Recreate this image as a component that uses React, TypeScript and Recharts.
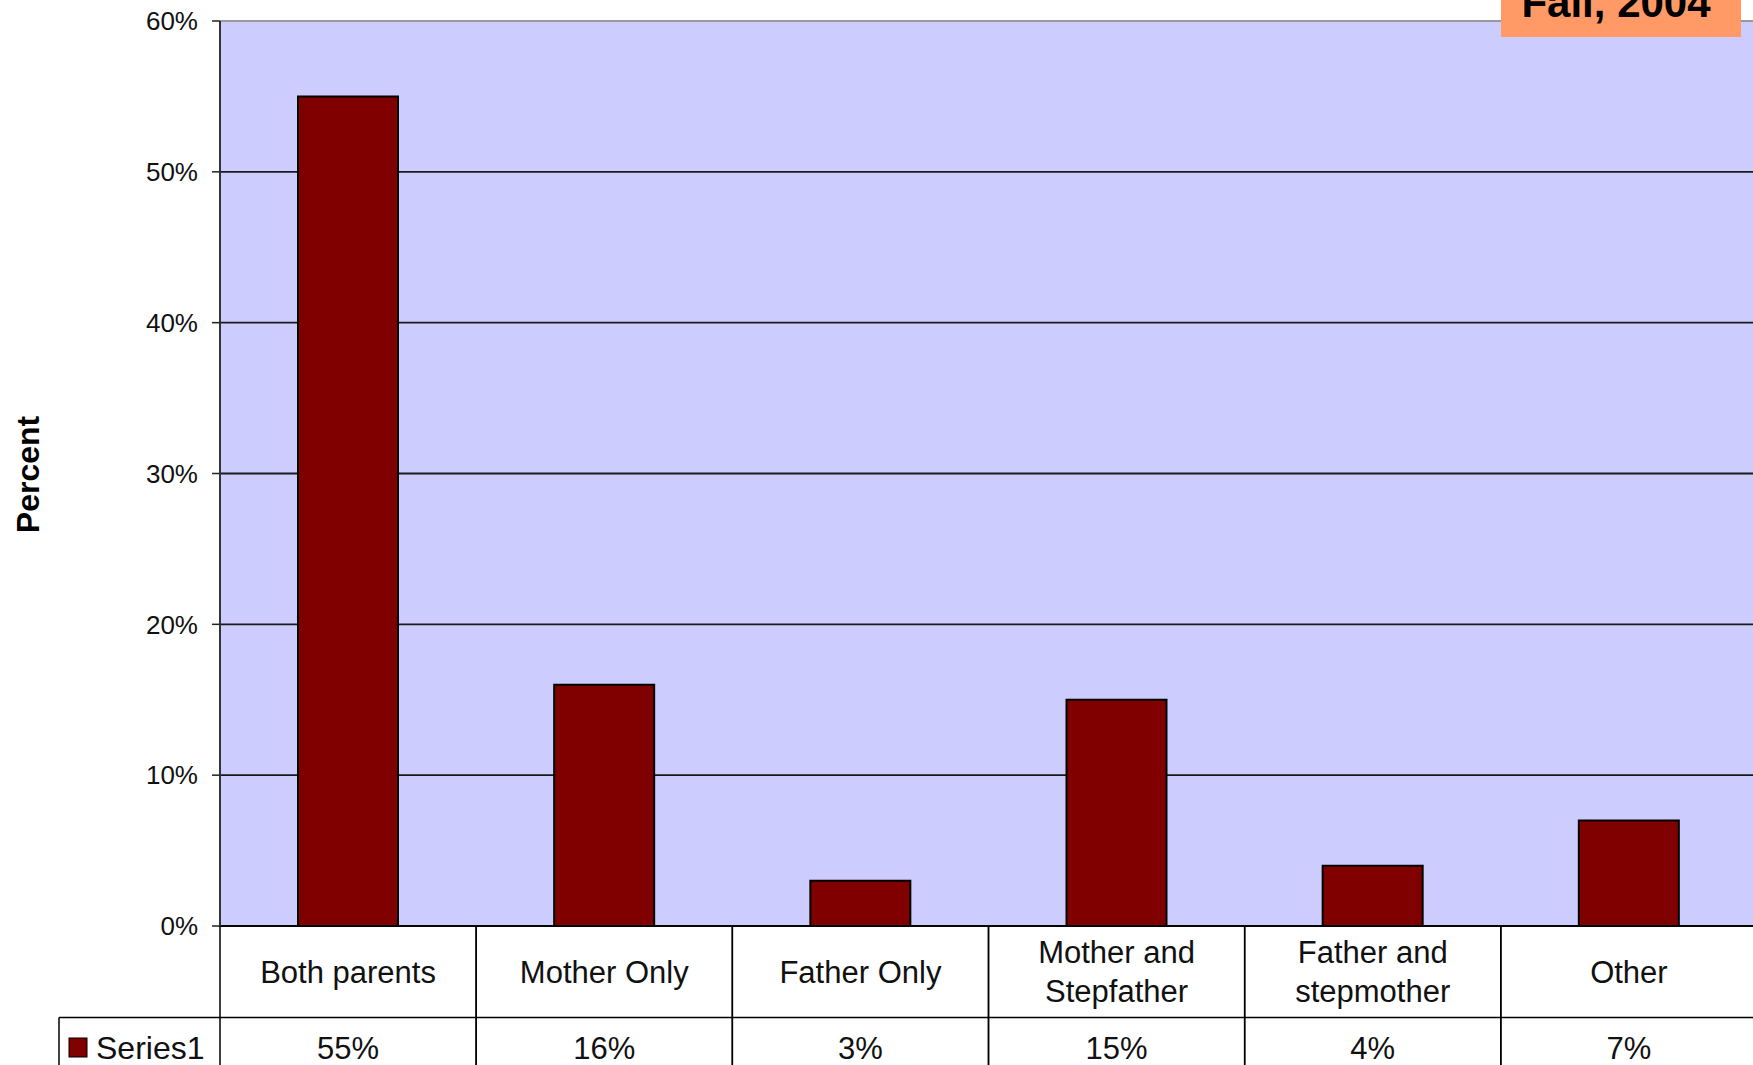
import React from 'react';
import { BarChart, Bar, XAxis, YAxis, CartesianGrid, ReferenceLine } from 'recharts';

const categories = ['Both parents', 'Mother Only', 'Father Only', 'Mother and\nStepfather', 'Father and\nstepmother', 'Other'];
const values = [55, 16, 3, 15, 4, 7];
const seriesName = 'Series1';
const yTicks = [0, 10, 20, 30, 40, 50, 60];
const yLabel = 'Percent';
const title = 'Fall, 2004';

const data = categories.map((c, i) => ({ name: c, value: values[i] }));

const FONT = '"Liberation Sans", Arial, sans-serif';
const BAR_COLOR = '#800000';
const CHART_W = 1760;
const CHART_H = 1065;

function CategoryTick(props: any) {
  const { x, y, payload, index } = props;
  const half = payload && payload.offset ? payload.offset : 128;
  const left = x - half;
  const right = x + half;
  const top = y;
  const rowH = 91.5;
  const sepY = top + rowH;
  const lines = String(payload.value).split('\n');
  const lh = 39;
  const mid = top + rowH / 2;
  const start = mid - ((lines.length - 1) * lh) / 2;
  const valY = sepY + 30;
  const idx = categories.indexOf(String(payload.value));
  const val = idx >= 0 ? values[idx] : null;
  return (
    <g>
      <line x1={left} y1={top} x2={left} y2={CHART_H} stroke="#000" strokeWidth={1.5} />
      <line x1={right} y1={top} x2={right} y2={CHART_H} stroke="#000" strokeWidth={1.5} />
      <line x1={left} y1={sepY} x2={right} y2={sepY} stroke="#000" strokeWidth={1.5} />
      {lines.map((l, i) => (
        <text key={i} x={x} y={start + i * lh} dy="0.36em" textAnchor="middle" fontFamily={FONT} fontSize={31} fill="#111">
          {l}
        </text>
      ))}
      {val !== null && (
        <text x={x} y={valY} dy="0.36em" textAnchor="middle" fontFamily={FONT} fontSize={31} fill="#111">
          {val + '%'}
        </text>
      )}
      {index === 0 && (
        <g>
          <line x1={59} y1={sepY} x2={left} y2={sepY} stroke="#000" strokeWidth={1.5} />
          <line x1={59} y1={sepY} x2={59} y2={CHART_H} stroke="#000" strokeWidth={1.5} />
          <rect x={69} y={valY - 9.5} width={18} height={19} fill={BAR_COLOR} stroke="#000" strokeWidth={1} />
          <text x={96} y={valY} dy="0.36em" textAnchor="start" fontFamily={FONT} fontSize={32} fill="#111">
            {seriesName}
          </text>
        </g>
      )}
    </g>
  );
}

function PercentLabel(props: any) {
  const vb = props.viewBox || { x: 0, y: 21, width: 220, height: 905 };
  const cx = vb.x + 27;
  const cy = vb.y + vb.height / 2 + 1;
  return (
    <text
      x={cx}
      y={cy}
      transform={`rotate(-90 ${cx} ${cy})`}
      textAnchor="middle"
      dy="0.36em"
      fontFamily={FONT}
      fontWeight="bold"
      fontSize={32}
      fill="#000"
    >
      {yLabel}
    </text>
  );
}

export default function App() {
  return (
    <div style={{ position: 'absolute', left: 0, top: 0, width: 1753, height: 1065, overflow: 'hidden', background: '#fff' }}>
      <BarChart
        width={CHART_W}
        height={CHART_H}
        data={data}
        margin={{ top: 21, right: 3, bottom: 0, left: 0 }}
        barCategoryGap={0}
      >
        <CartesianGrid vertical={false} horizontal={true} fill="#CCCCFF" stroke="#1a1a1a" strokeWidth={1.8} strokeOpacity={1} />
        <XAxis
          dataKey="name"
          interval={0}
          height={139}
          tickLine={false}
          tickSize={0}
          tickMargin={0}
          axisLine={{ stroke: '#000', strokeWidth: 1.5 }}
          tick={<CategoryTick />}
        />
        <YAxis
          width={220}
          domain={[0, 60]}
          ticks={yTicks}
          interval={0}
          tickFormatter={(v: number) => v + '%'}
          tickSize={8}
          tickMargin={14}
          tickLine={{ stroke: '#222', strokeWidth: 1.5 }}
          axisLine={{ stroke: '#333', strokeWidth: 2 }}
          tick={{ fontFamily: FONT, fontSize: 26, fill: '#111' }}
          label={<PercentLabel />}
        />
        <ReferenceLine y={60} stroke="#999" strokeWidth={2} />
        <Bar dataKey="value" fill={BAR_COLOR} stroke="#000" strokeWidth={2} barSize={100} isAnimationActive={false} />
      </BarChart>
      <svg style={{ position: 'absolute', left: 0, top: 0, pointerEvents: 'none' }} width={1753} height={60}>
        <rect x={1501} y={-10} width={240} height={47} fill="#FF9966" />
        <text x={1616} y={17} textAnchor="middle" fontFamily={FONT} fontWeight="bold" fontSize={42} fill="#000">
          {title}
        </text>
      </svg>
    </div>
  );
}
